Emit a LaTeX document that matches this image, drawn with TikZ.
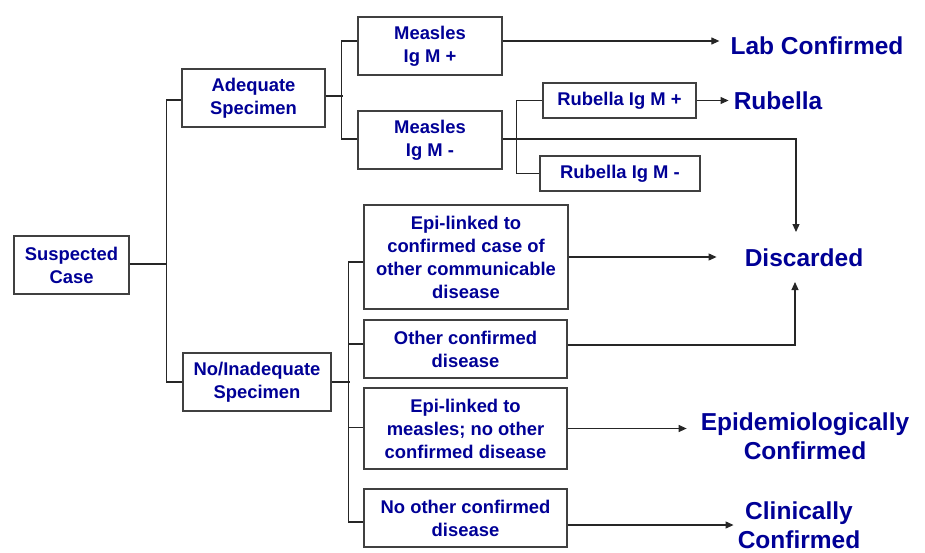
\documentclass[tikz,border=0pt]{standalone}
\usepackage{fontspec}
\setmainfont{Liberation Sans}
\usetikzlibrary{arrows.meta,calc}
\definecolor{txt}{RGB}{0,0,150}
\begin{document}
\begin{tikzpicture}[x=1pt,y=-1pt,
 box/.style={draw=black!75, line width=1.1pt, inner sep=0pt, align=center, text=txt, font=\fontsize{18.4}{23}\selectfont\bfseries},
 big/.style={inner sep=0pt, align=center, text=txt, font=\fontsize{24.5}{29}\selectfont\bfseries},
 ln/.style={line width=1.1pt, draw=black!85},
 arr/.style={ln, -{Triangle[length=8pt,width=7pt]}}]
\useasboundingbox (0,0) rectangle (925,552);

% boxes
\node[box, minimum width=115pt, minimum height=58pt] (sc) at (71.5,265) {Suspected\\Case};
\node[box, minimum width=143pt, minimum height=58pt] (ad) at (253.5,98) {Adequate\\Specimen};
\node[box, minimum width=144pt, minimum height=58pt] (m1) at (430,46) {Measles\\Ig M +};
\node[box, minimum width=144pt, minimum height=58pt] (m2) at (430,140) {Measles\\Ig M -};
\node[box, minimum width=153pt, minimum height=35pt] (r1) at (619.5,100.5) {Rubella Ig M +};
\node[box, minimum width=160pt, minimum height=35pt] (r2) at (620,173.5) {Rubella Ig M -};
\node[box, minimum width=148pt, minimum height=58pt] (no) at (257,382) {No/Inadequate\\Specimen};
\node[box, minimum width=204pt, minimum height=104pt] (b1) at (466,257) {Epi-linked to\\confirmed case of\\other communicable\\disease};
\node[box, minimum width=203pt, minimum height=58pt] (b2) at (465.5,349) {Other confirmed\\disease};
\node[box, minimum width=203pt, minimum height=81pt] (b3) at (465.5,428.5) {Epi-linked to\\measles; no other\\confirmed disease};
\node[box, minimum width=203pt, minimum height=58pt] (b4) at (465.5,518) {No other confirmed\\disease};

% outcomes
\node[big] (lab) at (817,46) {Lab Confirmed};
\node[big] (rub) at (778,101) {Rubella};
\node[big] (disc) at (804,258) {Discarded};
\node[big] (epi) at (805,436) {Epidemiologically\\Confirmed};
\node[big] (clin) at (799,525) {Clinically\\Confirmed};

% connectors
\draw[ln] ([yshift=-2pt]ad.west) -- ++(-15,0) |- ([yshift=1pt]sc.east);
\draw[ln] (no.west) -- ++(-16,0) |- ([yshift=1pt]sc.east);
\draw[ln] ([yshift=2pt]ad.east) -- ++(17,0);
\draw[ln] ([yshift=5pt]m1.west) -- ++(-16,0) |- ([yshift=1pt]m2.west);
\draw[arr] ([yshift=5pt]m1.east) -- ([xshift=-11pt,yshift=5pt]lab.west);
\draw[arr] ([yshift=1pt]m2.east) -| ($(disc.center)+(-8,-26)$);
\draw[ln] (r1.west) -- ++(-26,0) |- (r2.west);
\draw[arr] (r1.east) -- ([xshift=-5pt]rub.west |- r1.east);
\draw[ln] (no.east) -- ++(18,0);
\draw[ln] ([yshift=-5pt]b1.west) -- ++(-15,0) |- ([yshift=-4pt]b4.west);
\draw[ln] ([yshift=5pt]b2.west) -- ++(-15,0);
\draw[ln] ([yshift=1pt]b3.west) -- ++(-15,0);
\draw[arr] (b1.east) -- ([xshift=-28pt]disc.west |- b1.east);
\draw[arr] ([yshift=4pt]b2.east) -| ($(disc.center)+(-9,24)$);
\draw[arr] (b3.east) -- ([xshift=-14pt]epi.west |- b3.east);
\draw[arr] ([yshift=-7pt]b4.east) coordinate (b4o) -- ([xshift=-4pt]clin.west |- b4o);
\end{tikzpicture}
\end{document}
